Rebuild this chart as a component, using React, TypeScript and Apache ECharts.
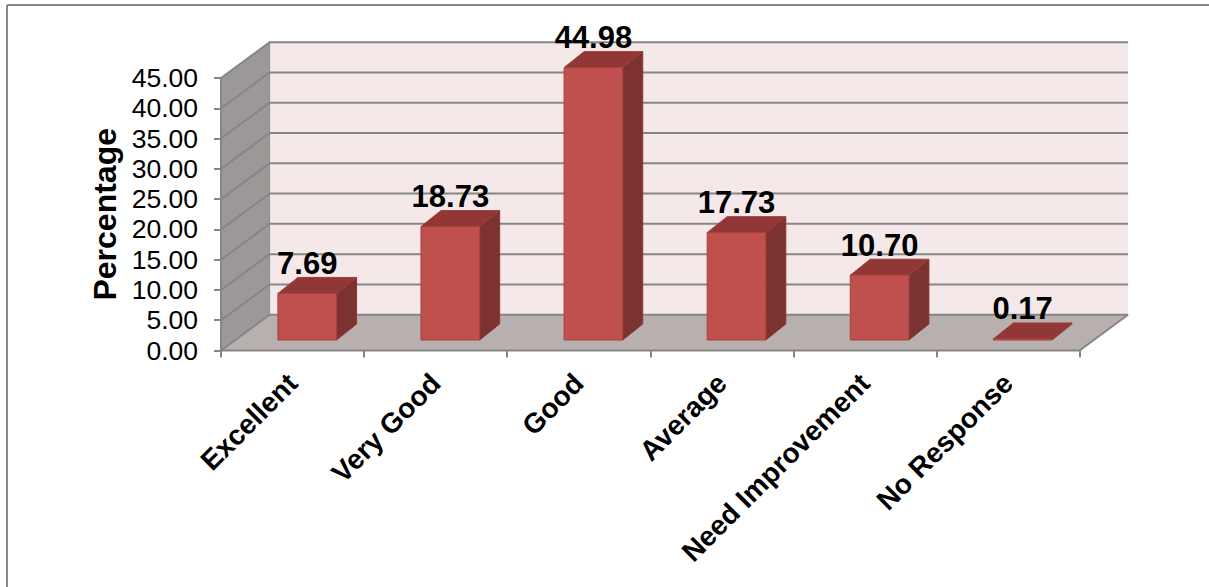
import React, { useEffect, useRef } from "react";
import * as echarts from "echarts";

const categories = ["Excellent", "Very Good", "Good", "Average", "Need Improvement", "No Response"];
const percentages = [7.69, 18.73, 44.98, 17.73, 10.7, 0.17];
const gridValues = [0, 5, 10, 15, 20, 25, 30, 35, 40, 45];

const WALL_DX = 48.6;
const WALL_DY = 35.8;
const BAR_DX = 20;
const BAR_DY = 16;
const BAR_INSET_X = 14.7;
const BAR_INSET_Y = 10.5;
const AXIS_COLOR = "#868686";
const FONT = '"Liberation Sans", Arial, sans-serif';

function renderWalls(params: any, api: any) {
  if (params.dataIndex !== 0) return { type: "group", children: [] };
  const [xMin, xMax] = [params.coordSys.x, params.coordSys.x + params.coordSys.width];
  const y0 = api.coord([0, 0])[1];
  const yTop = api.coord([0, 45])[1];
  const children: any[] = [
    { type: "polygon", shape: { points: [[xMin + WALL_DX, yTop - WALL_DY], [xMax + WALL_DX, yTop - WALL_DY], [xMax + WALL_DX, y0 - WALL_DY], [xMin + WALL_DX, y0 - WALL_DY]] }, style: { fill: "#F4E8E8" } },
    { type: "polygon", shape: { points: [[xMin, yTop], [xMin + WALL_DX, yTop - WALL_DY], [xMin + WALL_DX, y0 - WALL_DY], [xMin, y0]] }, style: { fill: "#9D9898" } },
    { type: "polygon", shape: { points: [[xMin, y0], [xMin + WALL_DX, y0 - WALL_DY], [xMax + WALL_DX, y0 - WALL_DY], [xMax, y0]] }, style: { fill: "#B8AFAF" } },
  ];
  gridValues.forEach((v) => {
    const y = api.coord([0, v])[1];
    children.push({
      type: "polyline",
      shape: { points: [[xMin, y], [xMin + WALL_DX, y - WALL_DY], [xMax + WALL_DX, y - WALL_DY]] },
      style: { fill: "none", stroke: AXIS_COLOR, lineWidth: 2 },
    });
  });
  children.push({
    type: "polyline",
    shape: { points: [[xMin, yTop], [xMin, y0], [xMax, y0], [xMax + WALL_DX, y0 - WALL_DY]] },
    style: { fill: "none", stroke: AXIS_COLOR, lineWidth: 2 },
  });
  children.push({
    type: "line",
    shape: { x1: xMin + WALL_DX, y1: yTop - WALL_DY, x2: xMin + WALL_DX, y2: y0 - WALL_DY },
    style: { stroke: "#8E8A8A", lineWidth: 1 },
  });
  return { type: "group", children };
}

function renderBar(params: any, api: any) {
  const cat = api.value(0);
  const val = api.value(1);
  const w = api.size([1, 0])[0] * 0.41;
  const base = api.coord([cat, 0]);
  const top = api.coord([cat, val]);
  const l = base[0] + BAR_INSET_X - w / 2;
  const r = l + w;
  const b = base[1] - BAR_INSET_Y;
  const t = top[1] - BAR_INSET_Y;
  return {
    type: "group",
    children: [
      { type: "polygon", shape: { points: [[r, t], [r + BAR_DX, t - BAR_DY], [r + BAR_DX, b - BAR_DY], [r, b]] }, style: { fill: "#7C3230", stroke: "#8A3735", lineWidth: 1 } },
      { type: "polygon", shape: { points: [[l, t], [l + BAR_DX, t - BAR_DY], [r + BAR_DX, t - BAR_DY], [r, t]] }, style: { fill: "#913836", stroke: "#9C3D3A", lineWidth: 1 } },
      { type: "rect", shape: { x: l, y: t, width: w, height: b - t }, style: { fill: "#C0504D", stroke: "#A8403E", lineWidth: 1 } },
      {
        type: "text",
        x: (l + r) / 2,
        y: t - BAR_DY - 14,
        style: { text: val.toFixed(2), fill: "#000", font: `bold 31px ${FONT}`, align: "center", verticalAlign: "middle" },
      },
    ],
  };
}

export default function App() {
  const ref = useRef<HTMLDivElement>(null);
  useEffect(() => {
    document.body.style.margin = "0";
    const chart = echarts.init(ref.current!, undefined, { renderer: "svg" });
    chart.setOption({
      animation: false,
      backgroundColor: "#fff",
      grid: { left: 221, top: 78, width: 858.5, height: 272.5, containLabel: false },
      graphic: [
        { type: "line", shape: { x1: 7, y1: 5, x2: 1209, y2: 5 }, style: { stroke: AXIS_COLOR, lineWidth: 2 }, silent: true },
        { type: "line", shape: { x1: 7, y1: 5, x2: 7, y2: 587 }, style: { stroke: AXIS_COLOR, lineWidth: 2 }, silent: true },
      ],
      xAxis: {
        type: "category",
        data: categories,
        boundaryGap: true,
        axisLine: { show: false },
        axisTick: { show: true, alignWithLabel: false, length: 7, lineStyle: { color: AXIS_COLOR, width: 2 } },
        axisLabel: { interval: 0, rotate: 45, margin: 28, color: "#000", fontFamily: FONT, fontWeight: "bold", fontSize: 28 },
        splitLine: { show: false },
      },
      yAxis: {
        type: "value",
        min: 0,
        max: 45,
        interval: 5,
        name: "Percentage",
        nameLocation: "middle",
        nameGap: 93,
        nameRotate: 90,
        nameTextStyle: { color: "#000", fontFamily: FONT, fontWeight: "bold", fontSize: 32 },
        axisLine: { show: false },
        axisTick: { show: true, length: 7, lineStyle: { color: AXIS_COLOR, width: 2 } },
        axisLabel: { margin: 23, color: "#000", fontFamily: FONT, fontSize: 26.5, formatter: (v: number) => v.toFixed(2) },
        splitLine: { show: false },
      },
      series: [
        { type: "custom", coordinateSystem: "cartesian2d", renderItem: renderWalls, data: [[0, 0]], z: 1, silent: true, clip: false },
        {
          type: "custom",
          coordinateSystem: "cartesian2d",
          renderItem: renderBar,
          data: percentages.map((v, i) => [i, v]),
          encode: { x: 0, y: 1 },
          z: 2,
          silent: true,
          clip: false,
        },
      ],
    });
    return () => chart.dispose();
  }, []);
  return <div ref={ref} style={{ width: 1209, height: 587 }} />;
}
